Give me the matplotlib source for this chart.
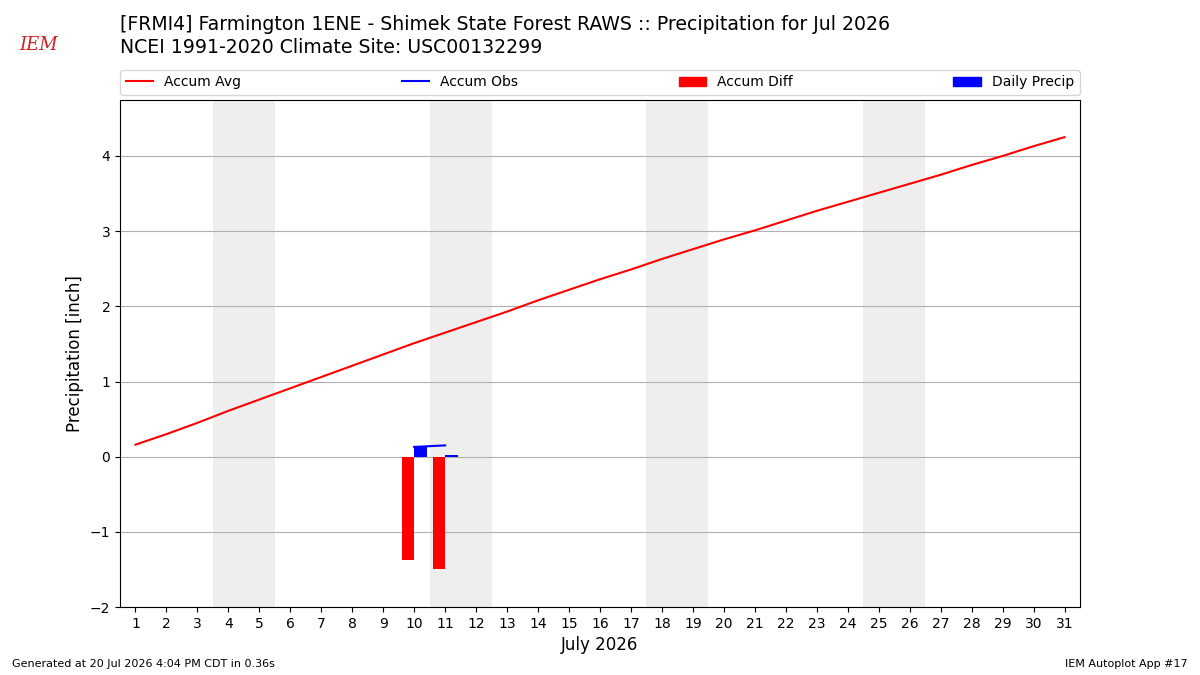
"""Recreate the IEM daily precipitation accumulation chart for July 2026."""

import numpy as np
import matplotlib.pyplot as plt
from matplotlib.patches import Patch
from matplotlib.lines import Line2D

days = np.arange(1, 32)
accum_avg = [0.16, 0.30, 0.45, 0.61, 0.76, 0.91, 1.06, 1.21, 1.36, 1.51,
             1.65, 1.79, 1.93, 2.08, 2.22, 2.36, 2.49, 2.63, 2.76, 2.89,
             3.01, 3.14, 3.27, 3.39, 3.51, 3.63, 3.75, 3.88, 4.00, 4.13, 4.25]
obs_days = [10, 11]
daily_precip = [0.13, 0.02]
accum_obs = [0.13, 0.15]
accum_diff = [-1.38, -1.50]
weekends = [(3.5, 5.5), (10.5, 12.5), (17.5, 19.5), (24.5, 26.5)]


def main():
    fig = plt.figure(figsize=(12, 6.75), dpi=100)
    ax = fig.add_axes([0.1, 0.1007, 0.8, 0.7512])

    for start, end in weekends:
        ax.axvspan(start, end, color="#eeeeee", zorder=0, lw=0)

    ax.plot(days, accum_avg, color="red", lw=1.5, zorder=3)
    ax.plot(obs_days, accum_obs, color="blue", lw=1.5, zorder=3)
    ax.bar(obs_days, accum_diff, width=-0.4, align="edge", color="red", zorder=2)
    ax.bar(obs_days, daily_precip, width=0.4, align="edge", color="blue", zorder=2)

    ax.set_xlim(0.5, 31.5)
    ax.set_ylim(-2, 4.745)
    ax.set_xticks(days)
    ax.set_yticks(range(-2, 5))
    ax.set_yticklabels(["\u22122", "\u22121", "0", "1", "2", "3", "4"])
    ax.yaxis.grid(True, color="#b0b0b0", lw=0.8)
    ax.set_axisbelow(True)
    ax.set_xlabel("July 2026", fontsize=12)
    ax.set_ylabel("Precipitation [inch]", fontsize=12)

    handles = [
        Line2D([], [], color="red", lw=1.5),
        Line2D([], [], color="blue", lw=1.5),
        Patch(color="red"),
        Patch(color="blue"),
    ]
    labels = ["Accum Avg", "Accum Obs", "Accum Diff", "Daily Precip"]
    ax.legend(handles, labels, ncol=4, mode="expand", loc="lower left",
              bbox_to_anchor=(0, 1.01, 1, 0.05), fontsize=10, borderaxespad=0)

    fig.text(0.1, 0.963, "[FRMI4] Farmington 1ENE - Shimek State Forest RAWS :: Precipitation for Jul 2026",
             fontsize=13.6, va="center")
    fig.text(0.1, 0.929, "NCEI 1991-2020 Climate Site: USC00132299", fontsize=13.6, va="center")

    # logo stand-in
    fig.text(0.032, 0.933, "IEM", color="#cc2222", fontsize=13, family="serif",
             style="italic", ha="center", va="center")

    fig.text(0.01, 0.012, "Generated at 20 Jul 2026 4:04 PM CDT in 0.36s", fontsize=8)
    fig.text(0.99, 0.012, "IEM Autoplot App #17", fontsize=8, ha="right")

    fig.savefig("out.png", dpi=100)


if __name__ == "__main__":
    main()
